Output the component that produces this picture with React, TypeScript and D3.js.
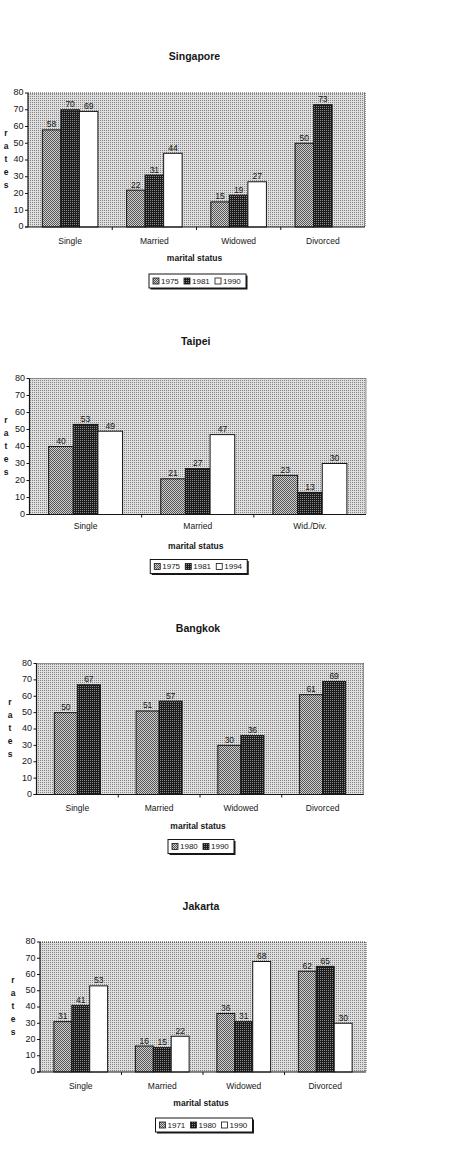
import React from 'react';
import * as d3 from 'd3';

// ---------- DATA ----------
const singaporeCategories = ['Single', 'Married', 'Widowed', 'Divorced'];
const singaporeYears = ['1975', '1981', '1990'];
const singapore1975 = [58, 22, 15, 50];
const singapore1981 = [70, 31, 19, 73];
const singapore1990: (number | null)[] = [69, 44, 27, null];

const taipeiCategories = ['Single', 'Married', 'Wid./Div.'];
const taipeiYears = ['1975', '1981', '1994'];
const taipei1975 = [40, 21, 23];
const taipei1981 = [53, 27, 13];
const taipei1994 = [49, 47, 30];

const bangkokCategories = ['Single', 'Married', 'Widowed', 'Divorced'];
const bangkokYears = ['1980', '1990'];
const bangkok1980 = [50, 51, 30, 61];
const bangkok1990 = [67, 57, 36, 69];

const jakartaCategories = ['Single', 'Married', 'Widowed', 'Divorced'];
const jakartaYears = ['1971', '1980', '1990'];
const jakarta1971 = [31, 16, 36, 62];
const jakarta1980 = [41, 15, 31, 65];
const jakarta1990 = [53, 22, 68, 30];

const yTicks = [0, 10, 20, 30, 40, 50, 60, 70, 80];
const xAxisTitle = 'marital status';
const yAxisTitle = 'rates';

// ---------- LAYOUT ----------
const charts = [
  { title: 'Singapore', cats: singaporeCategories, years: singaporeYears, series: [singapore1975, singapore1981, singapore1990],
    layout: { left: 28, right: 365, top: 93, bottom: 227, titleY: 57, ylabX: 6, catDy: 14.5, legDy: 54 } },
  { title: 'Taipei', cats: taipeiCategories, years: taipeiYears, series: [taipei1975, taipei1981, taipei1994],
    layout: { left: 29.5, right: 366, top: 378.5, bottom: 514.5, titleY: 342, ylabX: 6, catDy: 12.5, legDy: 52 } },
  { title: 'Bangkok', cats: bangkokCategories, years: bangkokYears, series: [bangkok1980, bangkok1990],
    layout: { left: 36.5, right: 363.5, top: 663.5, bottom: 794.5, titleY: 629, ylabX: 10, catDy: 14.5, legDy: 52 } },
  { title: 'Jakarta', cats: jakartaCategories, years: jakartaYears, series: [jakarta1971, jakarta1980, jakarta1990],
    layout: { left: 40, right: 366, top: 942, bottom: 1072, titleY: 907, ylabX: 13, catDy: 15, legDy: 53 } },
];

const seriesFills = ['url(#hatch)', 'url(#dark)', '#ffffff'];
const FONT = 'Liberation Sans, Arial, sans-serif';
const INK = '#161616';
const GAP = 1.55;

function Chart({ chart }: { chart: typeof charts[number] }) {
  const { left, right, top, bottom, titleY, ylabX, catDy, legDy } = chart.layout;
  const nS = chart.series.length;
  const p = GAP / (nS + GAP);
  const x0 = d3.scaleBand<string>().domain(chart.cats).range([left, right]).paddingInner(p).paddingOuter(p / 2);
  const x1 = d3.scaleBand<string>().domain(chart.years).range([0, x0.bandwidth()]);
  const y = d3.scaleLinear().domain([0, 80]).range([bottom, top]);
  const step = x0.step();
  const cx = (left + right) / 2;
  const entryW = 31;
  const legW = nS * entryW + 4;
  const legX = cx + 1 - legW / 2;
  const legY = bottom + legDy - 7;
  return (
    <g>
      <text x={cx - 2} y={titleY} textAnchor="middle" dominantBaseline="middle" fontSize={10.5} fontWeight="bold" fill={INK} fontFamily={FONT}>{chart.title}</text>
      <rect x={left} y={top} width={right - left} height={bottom - top} fill="url(#bg)" />
      <line x1={left} x2={right} y1={top} y2={top} stroke="#333" strokeDasharray="1,1" />
      <line x1={right} x2={right} y1={top} y2={bottom} stroke="#333" strokeDasharray="1,1" />
      {chart.series.map((vals, si) => (
        <g key={si}>
          {vals.map((v, ci) => v == null ? null : (
            <g key={ci}>
              <rect x={(x0(chart.cats[ci]) as number) + (x1(chart.years[si]) as number)} y={y(v)}
                width={x1.bandwidth()} height={bottom - y(v)} fill={seriesFills[si]} stroke={INK} strokeWidth={1} />
              <text x={(x0(chart.cats[ci]) as number) + (x1(chart.years[si]) as number) + x1.bandwidth() / 2} y={y(v) - 2.5}
                textAnchor="middle" fontSize={8.5} fill={INK} fontFamily={FONT}>{v}</text>
            </g>
          ))}
        </g>
      ))}
      <line x1={left} x2={left} y1={top} y2={bottom} stroke={INK} strokeWidth={1.2} />
      <line x1={left - 3} x2={right} y1={bottom} y2={bottom} stroke={INK} strokeWidth={1.2} />
      {yTicks.map(t => (
        <g key={t}>
          <line x1={left - 3} x2={left} y1={y(t)} y2={y(t)} stroke={INK} />
          <text x={left - 4.5} y={y(t)} textAnchor="end" dominantBaseline="middle" fontSize={9} fill={INK} fontFamily={FONT}>{t}</text>
        </g>
      ))}
      {d3.range(1, chart.cats.length).map(i => (
        <line key={i} x1={left + i * step} x2={left + i * step} y1={bottom} y2={bottom + 3} stroke={INK} />
      ))}
      {chart.cats.map(c => (
        <text key={c} x={(x0(c) as number) + x0.bandwidth() / 2} y={bottom + catDy} textAnchor="middle" dominantBaseline="middle"
          fontSize={8.5} fill={INK} fontFamily={FONT}>{c}</text>
      ))}
      <text x={cx - 2} y={bottom + 32} textAnchor="middle" dominantBaseline="middle" fontSize={8.5} fontWeight="bold" fill={INK} fontFamily={FONT}>{xAxisTitle}</text>
      {yAxisTitle.split('').map((ch, i) => (
        <text key={i} x={ylabX} y={(top + bottom) / 2 + (i - 2) * 13} textAnchor="middle" dominantBaseline="middle"
          fontSize={8.5} fontWeight="bold" fill={INK} fontFamily={FONT}>{ch}</text>
      ))}
      <rect x={legX + 1.5} y={legY + 1.5} width={legW} height={14} fill={INK} />
      <rect x={legX} y={legY} width={legW} height={14} fill="#fff" stroke={INK} strokeWidth={1} />
      {chart.years.map((yr, i) => (
        <g key={yr}>
          <rect x={legX + 4 + i * entryW} y={legY + 4} width={6} height={6} fill={seriesFills[i]} stroke={INK} strokeWidth={0.8} />
          <text x={legX + 12 + i * entryW} y={legY + 7.5} dominantBaseline="middle" fontSize={8} fill={INK} fontFamily={FONT}>{yr}</text>
        </g>
      ))}
    </g>
  );
}

export default function App() {
  return (
    <svg width={473} height={1162} style={{ position: 'absolute', left: 0, top: 0, background: '#fff' }}>
      <defs>
        <pattern id="bg" width={2} height={2} patternUnits="userSpaceOnUse">
          <rect width={2} height={2} fill="#dedede" />
          <rect width={1} height={1} fill="#858585" shapeRendering="crispEdges" />
        </pattern>
        <pattern id="hatch" width={2} height={2} patternUnits="userSpaceOnUse">
          <rect width={2} height={2} fill="#cfcfcf" />
          <rect width={1} height={1} fill="#555" shapeRendering="crispEdges" />
          <rect x={1} y={1} width={1} height={1} fill="#555" shapeRendering="crispEdges" />
        </pattern>
        <pattern id="dark" width={2} height={2} patternUnits="userSpaceOnUse">
          <rect width={2} height={2} fill="#1c1c1c" />
          <rect width={1} height={1} fill="#8a8a8a" shapeRendering="crispEdges" />
        </pattern>
      </defs>
      {charts.map(c => <Chart key={c.title} chart={c} />)}
    </svg>
  );
}
